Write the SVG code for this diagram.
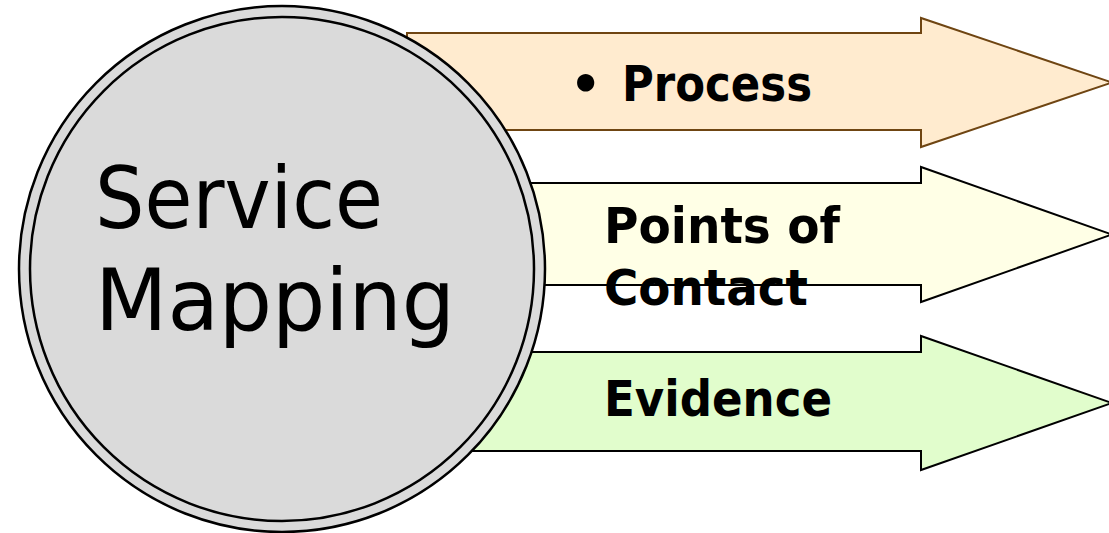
<svg xmlns="http://www.w3.org/2000/svg" width="1109" height="533" viewBox="0 0 1109 533">
  <defs>
    <style>
      .lbl { font-family: "Comic Sans MS", "DejaVu Sans", "Liberation Sans", sans-serif; font-weight: bold; font-size: 49px; fill: #000; }
      .big { font-family: "Comic Sans MS", "DejaVu Sans", "Liberation Sans", sans-serif; font-size: 85px; fill: #000; }
      .arrow { stroke-width: 2; stroke-linejoin: miter; }
    </style>
  </defs>
  <rect width="1109" height="533" fill="#ffffff"/>
  <g id="connectors"/>
  <g id="arrow-process">
    <polygon class="arrow" points="407,33 921,33 921,18 1112,82.5 921,147 921,130 407,130" fill="#ffebcf" stroke="#6f4512"/>
    <text class="lbl"><tspan x="570" y="101">•</tspan><tspan x="622" y="101" textLength="190" lengthAdjust="spacingAndGlyphs">Process</tspan></text>
  </g>
  <g id="arrow-contact">
    <polygon class="arrow" points="407,183 921,183 921,167 1112,234.5 921,302 921,285 407,285" fill="#ffffe6" stroke="#000"/>
    <text class="lbl" x="604" y="243" textLength="236" lengthAdjust="spacingAndGlyphs">Points of</text>
    <text class="lbl" x="604" y="305" textLength="204" lengthAdjust="spacingAndGlyphs">Contact</text>
  </g>
  <g id="arrow-evidence">
    <polygon class="arrow" points="407,352 921,352 921,336 1112,403 921,470 921,451 407,451" fill="#e1fdcc" stroke="#000"/>
    <text class="lbl" x="604" y="416" textLength="228" lengthAdjust="spacingAndGlyphs">Evidence</text>
  </g>
  <g id="service-mapping">
    <circle cx="282" cy="269" r="263" fill="#dadada" stroke="#000" stroke-width="2.5"/>
    <circle cx="282" cy="269" r="252" fill="#dadada" stroke="#000" stroke-width="2.5"/>
    <text class="big" x="95" y="228" textLength="288" lengthAdjust="spacingAndGlyphs">Service</text>
    <text class="big" x="95" y="330" textLength="360" lengthAdjust="spacingAndGlyphs">Mapping</text>
  </g>
</svg>
